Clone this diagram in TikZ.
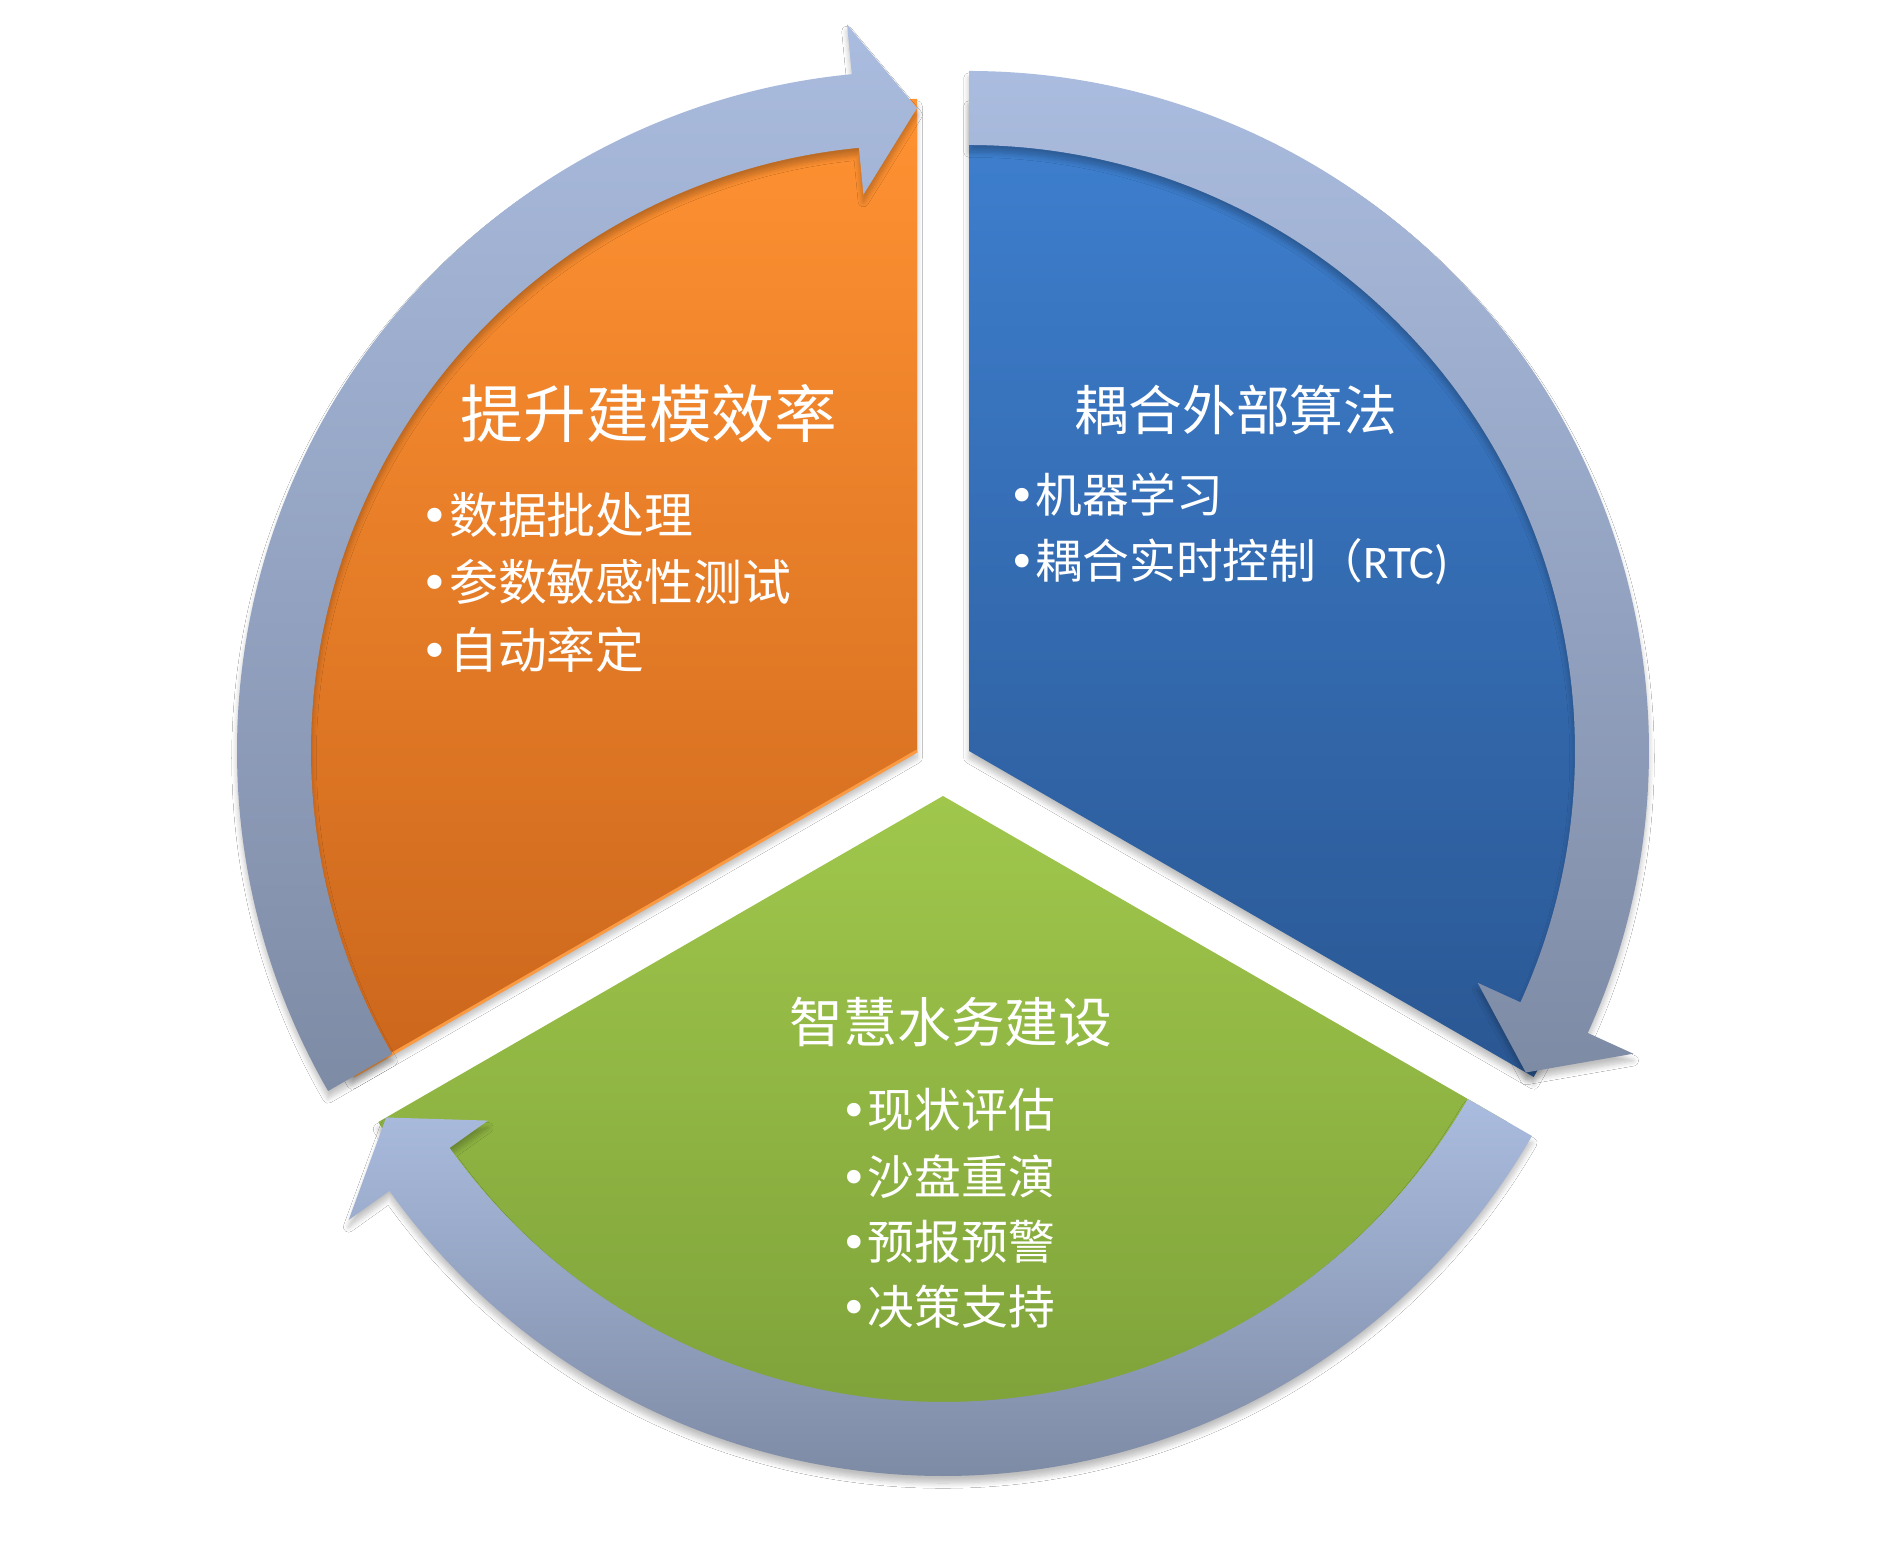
\documentclass[tikz,border=0pt]{standalone}
\usepackage{fontspec}
\newfontfamily\cjk{Noto Sans CJK SC}
\newfontfamily\latinf{Carlito}
\newfontfamily\dejavu{DejaVu Sans}
\newcommand\bdot{{\dejavu •}}
\usetikzlibrary{shadows.blur}
\definecolor{orTop}{HTML}{FF9232}
\definecolor{orBot}{HTML}{CB661C}
\definecolor{orEdge}{HTML}{FA9A42}
\definecolor{blTop}{HTML}{3E80D0}
\definecolor{blBot}{HTML}{2A5793}
\definecolor{grTop}{HTML}{A0C74C}
\definecolor{grBot}{HTML}{789B36}
\definecolor{arTop}{HTML}{AABCDF}
\definecolor{arBot}{HTML}{7E8BA5}
\begin{document}
\begin{tikzpicture}[x=0.02cm,y=0.02cm,
  softshadow/.style={blur shadow={shadow xshift=0pt,shadow yshift=-4pt,shadow blur radius=3pt,shadow blur steps=8,shadow opacity=25}},
  seg/.style={softshadow},
  arr/.style={softshadow,top color=arTop,bottom color=arBot},
  bigtitle/.style={text=white,inner sep=0pt,font=\cjk\fontsize{35.7}{40}\selectfont},
  title/.style={text=white,inner sep=0pt,font=\cjk\fontsize{30.6}{36}\selectfont},
  bulbig/.style={text=white,inner sep=0pt,anchor=west,font=\cjk\fontsize{27.8}{32}\selectfont},
  bul/.style={text=white,inner sep=0pt,anchor=west,font=\cjk\fontsize{26.6}{32}\selectfont}]
\useasboundingbox (0,0) rectangle (1886,1545);
\fill[white] (0,0) rectangle (1886,1545);

\coordinate (O) at (917,794);
\coordinate (B) at (969,794);
\coordinate (G) at (943,749);

% pie segments
\path[seg,top color=orTop,bottom color=orBot] (O) -- ++(90:652) arc[start angle=90,end angle=210,radius=652] -- cycle;
\draw[orEdge,line width=1.7pt] (O) -- ++(210:650);
\path[seg,top color=blTop,bottom color=blBot] (B) -- ++(-30:652) arc[start angle=-30,end angle=90,radius=652] -- cycle;
\path[seg,top color=grTop,bottom color=grBot] (G) -- ++(210:652) arc[start angle=210,end angle=330,radius=652] -- cycle;

% cycle arrows
\begin{scope}[shift={(O)}]
\path[arr] (210:680) arc[start angle=210,end angle=95.5,radius=680] -- (95.5:730) -- (90:643) -- (95.5:559) -- (95.5:606) arc[start angle=95.5,end angle=210,radius=606] -- cycle;
\end{scope}
\begin{scope}[shift={(B)}]
\path[arr] (90:680) arc[start angle=90,end angle=-24.5,radius=680] -- (-24.5:730) -- (-30:643) -- (-24.5:559) -- (-24.5:606) arc[start angle=-24.5,end angle=90,radius=606] -- cycle;
\end{scope}
\begin{scope}[shift={(G)}]
\path[arr] (330:680) arc[start angle=330,end angle=215.5,radius=680] -- (215.5:730) -- (210:643) -- (215.5:559) -- (215.5:606) arc[start angle=215.5,end angle=330,radius=606] -- cycle;
\end{scope}

% texts
\node[bigtitle] (t1) at (649,1131) {提升建模效率};
\node[bulbig] (o1) at (420,1030) {\bdot 数据批处理};
\node[bulbig] (o2) at (420,963) {\bdot 参数敏感性测试};
\node[bulbig] (o3) at (420,895) {\bdot 自动率定};

\node[title] (t2) at (1236,1135) {耦合外部算法};
\node[bul] (b1) at (1008,1050) {\bdot 机器学习};
\node[bul] (b2) at (1008,983) {\bdot 耦合实时控制（{\latinf RTC)}};

\node[title] (t3) at (951,523) {智慧水务建设};
\node[bul] (g1) at (840,435) {\bdot 现状评估};
\node[bul] (g2) at (840,368) {\bdot 沙盘重演};
\node[bul] (g3) at (840,303) {\bdot 预报预警};
\node[bul] (g4) at (840,238) {\bdot 决策支持};
\end{tikzpicture}
\end{document}
